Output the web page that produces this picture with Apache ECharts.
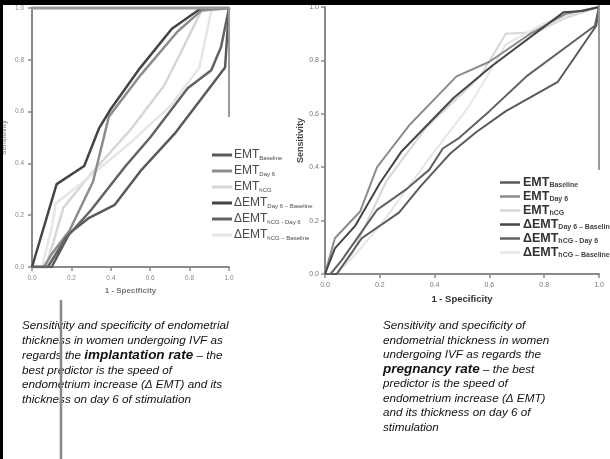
<!DOCTYPE html>
<html lang="en">
<head>
    <meta charset="UTF-8">
    <title>ROC endometrial thickness</title>
    <style>
        * {
            margin: 0;
            padding: 0;
            box-sizing: border-box;
        }

        .chart {
            width: 610px;
            height: 459px;
            background: #fff;
        }
    </style>
</head>
<body>
<div class="chart" id="chart"></div>

<script src="https://cdn.jsdelivr.net/npm/echarts@6.0.0/dist/echarts.min.js"></script>
<script>
    // 两张图共用的刻度和图例
    const ticks = [0.0, 0.2, 0.4, 0.6, 0.8, 1.0]
    const names = [
        'EMT Baseline', 'EMT Day 6', 'EMT hCG',
        'dEMT Day6-Baseline', 'dEMT hCG-Day6', 'dEMT hCG-Baseline'
    ]
    const colors = ['#5a5a5a', '#8c8c8c', '#d6d6d6', '#454545', '#626262', '#e6e6e6']

    // 左图: implantation rate  [1 - specificity, sensitivity]
    const implEmtBaseline = [[0, 0], [0.10, 0], [0.19, 0.13], [0.29, 0.19], [0.42, 0.24], [0.55, 0.37], [0.73, 0.52], [0.98, 0.77], [1, 1]]
    const implEmtDay6 = [[0, 0], [0.06, 0], [0.10, 0.05], [0.19, 0.14], [0.31, 0.33], [0.39, 0.58], [0.55, 0.74], [0.74, 0.91], [0.86, 0.99], [1, 1]]
    const implEmtHcg = [[0, 0], [0.07, 0], [0.11, 0.10], [0.16, 0.23], [0.30, 0.36], [0.50, 0.53], [0.67, 0.70], [0.75, 0.82], [0.86, 0.99], [1, 1]]
    const implDeltaDay6Base = [[0, 0], [0.125, 0.32], [0.265, 0.39], [0.34, 0.535], [0.40, 0.61], [0.54, 0.76], [0.71, 0.92], [0.86, 1], [1, 1]]
    const implDeltaHcgDay6 = [[0, 0], [0.08, 0], [0.17, 0.11], [0.30, 0.22], [0.475, 0.39], [0.60, 0.50], [0.79, 0.69], [0.91, 0.76], [0.96, 0.85], [1, 1]]
    const implDeltaHcgBase = [[0, 0], [0.05, 0], [0.10, 0.15], [0.12, 0.245], [0.27, 0.335], [0.50, 0.48], [0.70, 0.62], [0.85, 0.77], [0.91, 0.99], [1, 1]]

    // 右图: pregnancy rate
    const pregEmtBaseline = [[0, 0], [0.043, 0], [0.134, 0.134], [0.27, 0.23], [0.35, 0.33], [0.456, 0.45], [0.55, 0.53], [0.66, 0.61], [0.85, 0.72], [0.99, 0.93], [1, 1]]
    const pregEmtDay6 = [[0, 0], [0.036, 0.134], [0.128, 0.234], [0.19, 0.40], [0.31, 0.56], [0.48, 0.74], [0.60, 0.795], [0.75, 0.90], [0.88, 0.975], [1, 1]]
    const pregEmtHcg = [[0, 0], [0.04, 0], [0.10, 0.078], [0.225, 0.35], [0.37, 0.55], [0.566, 0.74], [0.66, 0.90], [0.77, 0.905], [0.88, 0.96], [1, 1]]
    const pregDeltaDay6Base = [[0, 0], [0.036, 0.096], [0.11, 0.18], [0.20, 0.34], [0.28, 0.46], [0.47, 0.66], [0.61, 0.78], [0.87, 0.98], [0.94, 0.985], [1, 1]]
    const pregDeltaHcgDay6 = [[0, 0], [0.02, 0], [0.06, 0.05], [0.19, 0.24], [0.30, 0.32], [0.38, 0.39], [0.43, 0.47], [0.49, 0.51], [0.60, 0.61], [0.735, 0.74], [0.985, 0.93], [1, 1]]
    const pregDeltaHcgBase = [[0, 0], [0.04, 0], [0.10, 0.06], [0.20, 0.18], [0.30, 0.32], [0.40, 0.46], [0.52, 0.62], [0.58, 0.72], [0.66, 0.86], [0.80, 0.94], [0.92, 0.98], [1, 1]]

    const implData = [implEmtBaseline, implEmtDay6, implEmtHcg, implDeltaDay6Base, implDeltaHcgDay6, implDeltaHcgBase]
    const pregData = [pregEmtBaseline, pregEmtDay6, pregEmtHcg, pregDeltaDay6Base, pregDeltaHcgDay6, pregDeltaHcgBase]

    // 图例文字: 主体 + 下标
    const legendMain = ['EMT', 'EMT', 'EMT', 'ΔEMT', 'ΔEMT', 'ΔEMT']
    const legendSub = ['Baseline', 'Day 6', 'hCG', 'Day 6 – Baseline', 'hCG - Day 6', 'hCG – Baseline']

    const leftCaption = [
        [['n', 'Sensitivity and specificity of endometrial']],
        [['n', 'thickness in women undergoing IVF as']],
        [['n', 'regards the '], ['b', 'implantation rate'], ['n', ' – the']],
        [['n', 'best predictor is the speed of']],
        [['n', 'endometrium increase (Δ EMT) and its']],
        [['n', 'thickness on day 6 of stimulation']]
    ]
    const rightCaption = [
        [['n', 'Sensitivity and specificity of']],
        [['n', 'endometrial thickness in women']],
        [['n', 'undergoing IVF as regards the']],
        [['b', 'pregnancy rate'], ['n', ' – the best']],
        [['n', 'predictor is the speed of']],
        [['n', 'endometrium increase (Δ EMT)']],
        [['n', 'and its thickness on day 6 of']],
        [['n', 'stimulation']]
    ]

    const chartEle = document.querySelector('.chart')
    const myChart = echarts.init(chartEle)

    const narrow = 'Liberation Sans Narrow, Liberation Sans, Arial, sans-serif'
    const sans = 'Liberation Sans, Arial, sans-serif'

    function legendFormatter(name) {
        const i = names.indexOf(name)
        return '{a|' + legendMain[i] + '}{b|' + legendSub[i] + '}'
    }

    function valueAxis(gridIndex, opts) {
        return Object.assign({
            type: 'value',
            gridIndex: gridIndex,
            min: 0,
            max: 1,
            interval: 0.2,
            splitLine: { show: false },
            axisLine: { show: true, lineStyle: { color: '#8a8a8a', width: 2 } },
            axisTick: { show: true, length: 4, lineStyle: { color: '#8a8a8a', width: 1.5 } },
            axisLabel: {
                fontSize: 6.5,
                color: '#8a8a8a',
                fontFamily: narrow,
                formatter: v => v.toFixed(1)
            },
            nameLocation: 'middle',
            nameTextStyle: { fontWeight: 'bold', fontFamily: sans }
        }, opts)
    }

    const series = []
    names.forEach((n, i) => {
        series.push({
            name: n,
            type: 'line',
            xAxisIndex: 0,
            yAxisIndex: 0,
            data: implData[i],
            showSymbol: false,
            lineStyle: { width: 2.5, color: colors[i] },
            itemStyle: { color: colors[i] },
            z: i === 2 || i === 5 ? 2 : 3
        })
    })
    names.forEach((n, i) => {
        series.push({
            name: n,
            type: 'line',
            xAxisIndex: 1,
            yAxisIndex: 1,
            data: pregData[i],
            showSymbol: false,
            lineStyle: { width: 2, color: colors[i] },
            itemStyle: { color: colors[i] },
            z: i === 2 || i === 5 ? 2 : 3
        })
    })

    // 图注文字 (逐行, 以行中心对齐)
    function captionLines(lines, x, yc, gap) {
        return lines.map((parts, k) => ({
            type: 'text',
            x: x,
            y: yc + k * gap,
            style: {
                text: parts.map(p => '{' + p[0] + '|' + p[1] + '}').join(''),
                verticalAlign: 'middle',
                rich: {
                    n: { fontSize: 11.7, fontStyle: 'italic', fontFamily: sans, fill: '#111', color: '#111' },
                    b: { fontSize: 13.5, fontStyle: 'italic', fontWeight: 'bold', fontFamily: sans, fill: '#111', color: '#111' }
                }
            }
        }))
    }

    option = {
        animation: false,
        grid: [
            { left: 31, top: 8, width: 198, height: 259 },
            { left: 325, top: 7, width: 274, height: 267 }
        ],
        xAxis: [
            valueAxis(0, {
                name: '1 - Specificity',
                nameGap: 20,
                nameTextStyle: { fontWeight: 'bold', fontFamily: narrow, fontSize: 8, color: '#777' }
            }),
            valueAxis(1, {
                name: '1 - Specificity',
                nameGap: 18,
                axisLabel: { fontSize: 7, color: '#777', fontFamily: sans, formatter: v => v.toFixed(1) },
                nameTextStyle: { fontWeight: 'bold', fontFamily: sans, fontSize: 9.5, color: '#333' }
            })
        ],
        yAxis: [
            valueAxis(0, {
                name: 'Sensitivity',
                nameGap: 24,
                nameTextStyle: { fontWeight: 'bold', fontFamily: narrow, fontSize: 7, color: '#999' }
            }),
            valueAxis(1, {
                name: 'Sensitivity',
                nameGap: 15,
                axisLabel: { fontSize: 7, color: '#777', fontFamily: sans, margin: 6, formatter: v => v.toFixed(1) },
                nameTextStyle: { fontWeight: 'bold', fontFamily: sans, fontSize: 9, color: '#444' }
            })
        ],
        legend: [
            {
                data: names,
                orient: 'vertical',
                left: 207,
                top: 144,
                icon: 'rect',
                itemWidth: 20,
                itemHeight: 3,
                itemGap: 4,
                selectedMode: false,
                formatter: legendFormatter,
                textStyle: {
                    padding: [0, 0, 0, -3],
                    rich: {
                        a: { fontSize: 12, fontFamily: narrow, color: '#4a4a4a' },
                        b: { fontSize: 6, fontFamily: narrow, color: '#4a4a4a', padding: [6, 0, 0, 0] }
                    }
                }
            },
            {
                data: names,
                orient: 'vertical',
                left: 495,
                top: 171,
                icon: 'rect',
                itemWidth: 20,
                itemHeight: 2.5,
                itemGap: 1,
                selectedMode: false,
                formatter: legendFormatter,
                textStyle: {
                    padding: [0, 0, 0, -2],
                    rich: {
                        a: { fontSize: 12.5, fontWeight: 'bold', fontFamily: sans, color: '#333' },
                        b: { fontSize: 7, fontWeight: 'bold', fontFamily: sans, color: '#444', padding: [6, 0, 0, 0] }
                    }
                }
            }
        ],
        graphic: [
            // 幻灯片黑边
            { type: 'rect', shape: { x: 0, y: 0, width: 610, height: 5 }, style: { fill: '#000' }, z: 10 },
            { type: 'rect', shape: { x: 0, y: 0, width: 3, height: 459 }, style: { fill: '#000' }, z: 10 },
            // 左图上方和右侧灰线
            { type: 'line', shape: { x1: 31, y1: 8, x2: 229, y2: 8 }, style: { stroke: '#999', lineWidth: 3 }, z: 5 },
            { type: 'line', shape: { x1: 229, y1: 7, x2: 229, y2: 117 }, style: { stroke: '#999', lineWidth: 2 }, z: 5 },
            // 右图右侧灰线
            { type: 'line', shape: { x1: 599, y1: 5, x2: 599, y2: 170 }, style: { stroke: '#999', lineWidth: 2 }, z: 5 },
            // 图注区域竖线
            { type: 'line', shape: { x1: 61, y1: 300, x2: 61, y2: 459 }, style: { stroke: '#888', lineWidth: 2.5 }, z: 5 }
        ]
            .concat(captionLines(leftCaption, 22, 326, 14.8))
            .concat(captionLines(rightCaption, 383, 326, 14.5)),
        series: series
    }

    myChart.setOption(option)
</script>
</body>
</html>
